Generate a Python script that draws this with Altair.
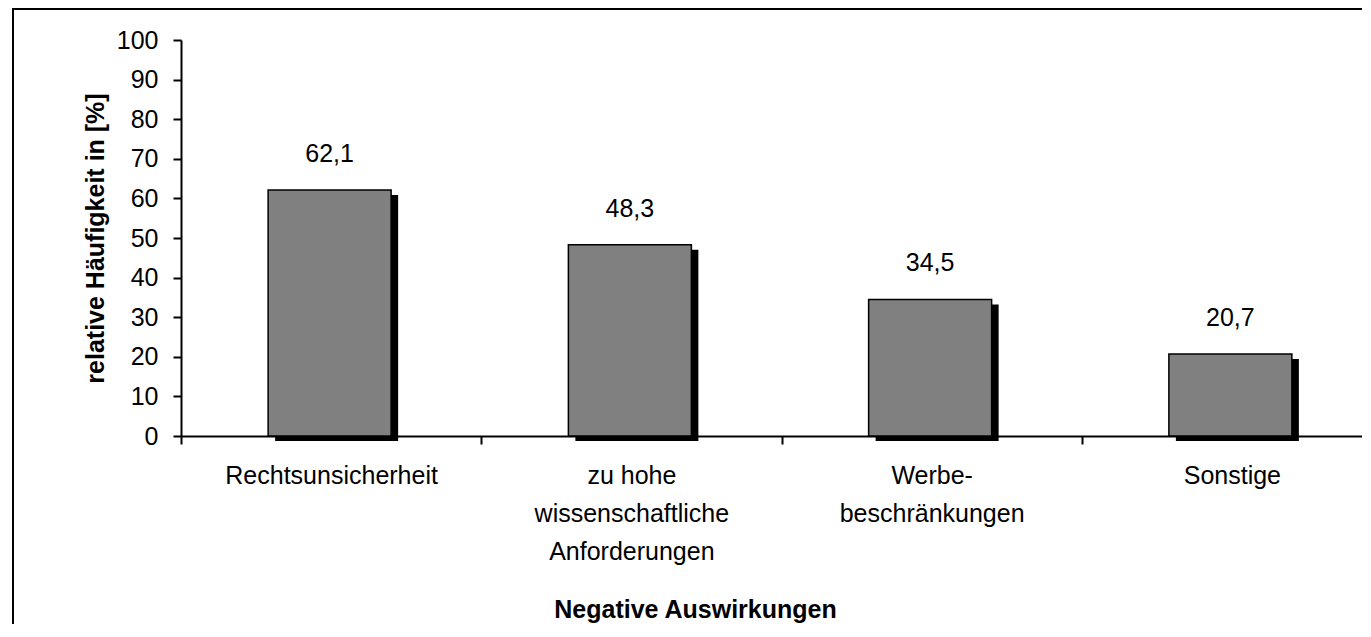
import altair as alt
import pandas as pd

categories = ["Rechtsunsicherheit", "zu hohe|wissenschaftliche|Anforderungen", "Werbe-|beschränkungen", "Sonstige"]
values = [62.1, 48.3, 34.5, 20.7]
value_labels = ["62,1", "48,3", "34,5", "20,7"]
y_ticks = [0, 10, 20, 30, 40, 50, 60, 70, 80, 90, 100]

df = pd.DataFrame({"cat": categories, "val": values, "lab": value_labels})

FONT = "Liberation Sans"
PLOT_W = 1181
PLOT_H = 396
BAND_RANGE = 1201

x_enc = alt.X(
    "cat:N",
    sort=categories,
    scale=alt.Scale(range=[0, BAND_RANGE], paddingInner=0, paddingOuter=0),
    axis=alt.Axis(
        title="Negative Auswirkungen",
        titleFont=FONT, titleFontSize=25, titleFontWeight="bold", titleColor="black",
        titleX=514, titleY=181, titleBaseline="alphabetic", titleAlign="center",
        labelExpr="split(datum.label, '|')",
        labelFont=FONT, labelFontSize=25, labelColor="black",
        labelBaseline="alphabetic", labelPadding=39, labelLineHeight=38,
        labelLimit=500, labelOverlap=False, labelAngle=0,
        tickBand="extent", tickSize=8, tickWidth=2, tickColor="black",
        domainColor="black", domainWidth=2,
    ),
)

y_enc = alt.Y(
    "val:Q",
    scale=alt.Scale(domain=[0, 100], nice=False),
    axis=alt.Axis(
        title="relative Häufigkeit in [%]",
        titleFont=FONT, titleFontSize=25, titleFontWeight="bold", titleColor="black",
        titleAngle=270, titleX=-78, titleY=198, titleBaseline="alphabetic", titleAlign="center",
        values=y_ticks,
        labelFont=FONT, labelFontSize=25, labelColor="black", labelPadding=15,
        tickSize=8, tickWidth=2, tickColor="black",
        domainColor="black", domainWidth=2, grid=False,
    ),
)

base = alt.Chart(df)

shadow = base.mark_bar(width=123, color="black", xOffset=5.5, yOffset=5, y2Offset=1).encode(x=x_enc, y=y_enc)
bars = base.mark_bar(width=123, color="#808080", stroke="black", strokeWidth=1.5, xOffset=-1.5).encode(x=x_enc, y=y_enc)
labels = base.mark_text(font=FONT, fontSize=25, color="black", baseline="alphabetic", dy=-28, xOffset=-1.5).encode(
    x=x_enc, y=y_enc, text="lab:N"
)

frame = alt.Chart(alt.Data(values=[{"f": 1}])).mark_rect(fill=None, stroke="black", strokeWidth=2).encode(
    x=alt.value(-168), x2=alt.value(3000), y=alt.value(-31), y2=alt.value(3000)
)

chart = alt.layer(frame, shadow, bars, labels).properties(
    width=PLOT_W, height=PLOT_H,
    background="white",
    autosize=alt.AutoSizeParams(type="none"),
    padding={"left": 173, "top": 32, "right": 0, "bottom": 188},
).configure_view(stroke=None)

chart.save("out.html", embed_options={"renderer": "svg", "actions": False})
